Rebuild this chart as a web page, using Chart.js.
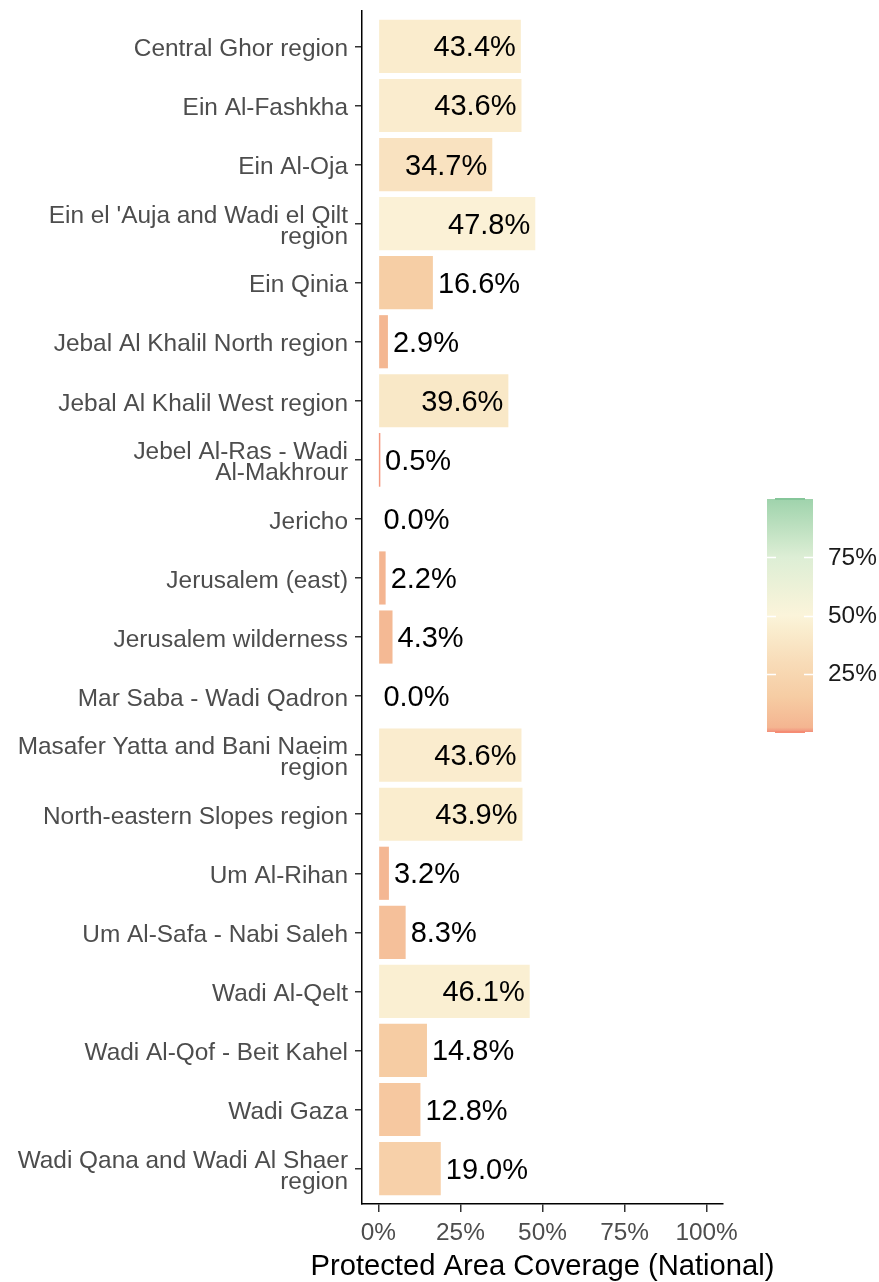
<!DOCTYPE html>
<html>
<head>
<meta charset="utf-8">
<script src="https://cdn.jsdelivr.net/npm/chart.js@4.4.1/dist/chart.umd.min.js"></script>
<style>
  html, body { margin: 0; padding: 0; background: #fff; }
  #chart { display: block; }
</style>
</head>
<body>
<canvas id="chart" width="879" height="1282"></canvas>
<script>
// Protected area coverage by region (national)
const regions = [
    'Central Ghor region',
    'Ein Al-Fashkha',
    'Ein Al-Oja',
    ["Ein el 'Auja and Wadi el Qilt", 'region'],
    'Ein Qinia',
    'Jebal Al Khalil North region',
    'Jebal Al Khalil West region',
    ['Jebel Al-Ras - Wadi', 'Al-Makhrour'],
    'Jericho',
    'Jerusalem (east)',
    'Jerusalem wilderness',
    'Mar Saba - Wadi Qadron',
    ['Masafer Yatta and Bani Naeim', 'region'],
    'North-eastern Slopes region',
    'Um Al-Rihan',
    'Um Al-Safa - Nabi Saleh',
    'Wadi Al-Qelt',
    'Wadi Al-Qof - Beit Kahel',
    'Wadi Gaza',
    ['Wadi Qana and Wadi Al Shaer', 'region']
];
const coverage = [43.4, 43.6, 34.7, 47.8, 16.6, 2.9, 39.6, 0.5, 0.0, 2.2,
                  4.3, 0.0, 43.6, 43.9, 3.2, 8.3, 46.1, 14.8, 12.8, 19.0];
const xTicks = [0, 25, 50, 75, 100];
const legendTicks = [25, 50, 75];
const xTitle = 'Protected Area Coverage (National)';

const FONT = '"Liberation Sans", Arial, sans-serif';

const rampStops = [0, 2, 15, 30, 45, 50, 75, 100];
const rampColors = ['#F2907A', '#F4B591', '#F6CCA3', '#F8DCB8', '#FAEED0', '#FBF4DA', '#DDEED5', '#9FD3AC'];

function hexToRgb(h) {
    return [1, 3, 5].map(i => parseInt(h.substr(i, 2), 16));
}

function rampColor(v) {
    for (let i = 1; i < rampStops.length; i++) {
        if (v <= rampStops[i]) {
            const t = (v - rampStops[i - 1]) / (rampStops[i] - rampStops[i - 1]);
            const a = hexToRgb(rampColors[i - 1]), b = hexToRgb(rampColors[i]);
            const c = a.map((x, k) => Math.round(x + (b[k] - x) * t));
            return 'rgb(' + c.join(',') + ')';
        }
    }
    return rampColors[rampColors.length - 1];
}

// value text next to / inside each bar
const valueLabels = {
    id: 'valueLabels',
    afterDatasetsDraw(chart) {
        const ctx = chart.ctx;
        const meta = chart.getDatasetMeta(0);
        ctx.save();
        ctx.font = '29px ' + FONT;
        ctx.fillStyle = '#000';
        ctx.textBaseline = 'middle';
        meta.data.forEach((bar, i) => {
            const v = coverage[i];
            const txt = v.toFixed(1) + '%';
            if (v > 30) {
                ctx.textAlign = 'right';
                ctx.fillText(txt, bar.x - 5, bar.y + 2);
            } else {
                ctx.textAlign = 'left';
                ctx.fillText(txt, bar.x + 5, bar.y + 2);
            }
        });
        ctx.restore();
    }
};

// x-axis title (drawn here so it is not squeezed to the plot width)
const axisTitle = {
    id: 'axisTitle',
    afterDraw(chart) {
        const ctx = chart.ctx;
        const area = chart.chartArea;
        ctx.save();
        ctx.font = '29.2px ' + FONT;
        ctx.fillStyle = '#000';
        ctx.textAlign = 'center';
        ctx.textBaseline = 'middle';
        ctx.fillText(xTitle, (area.left + area.right) / 2, chart.height - 15);
        ctx.restore();
    }
};

// colour bar legend on the right
const colourBar = {
    id: 'colourBar',
    afterDraw(chart) {
        const ctx = chart.ctx;
        const x0 = 767, x1 = 813, yZero = 732, yHundred = 499;
        const yOf = v => yZero + (yHundred - yZero) * v / 100;
        ctx.save();
        const grad = ctx.createLinearGradient(0, yZero, 0, yHundred);
        rampStops.forEach((s, i) => grad.addColorStop(s / 100, rampColors[i]));
        ctx.fillStyle = grad;
        ctx.fillRect(x0, yHundred, x1 - x0, yZero - yHundred);
        // darker end caps
        ctx.fillStyle = '#86C69A';
        ctx.fillRect(x0 + 8, yHundred - 1, x1 - x0 - 16, 2);
        ctx.fillStyle = '#F58C74';
        ctx.fillRect(x0 + 8, yZero - 1, x1 - x0 - 16, 2);
        // tick marks
        ctx.strokeStyle = '#fff';
        ctx.lineWidth = 1.5;
        legendTicks.forEach(v => {
            const y = Math.round(yOf(v)) + 0.5;
            ctx.beginPath();
            ctx.moveTo(x0, y); ctx.lineTo(x0 + 9, y);
            ctx.moveTo(x1 - 9, y); ctx.lineTo(x1, y);
            ctx.stroke();
        });
        ctx.font = '24.4px ' + FONT;
        ctx.fillStyle = '#1A1A1A';
        ctx.textAlign = 'left';
        ctx.textBaseline = 'middle';
        legendTicks.forEach(v => ctx.fillText(v + '%', 828, yOf(v) + 1));
        ctx.restore();
    }
};

new Chart(document.getElementById('chart'), {
    type: 'bar',
    data: {
        datasets: [{
            data: coverage.map((v, i) => ({ x: v, y: i })),
            backgroundColor: coverage.map(rampColor),
            borderWidth: 0,
            // thin bars (< 1%) get a touch of extra width so they show as a line
            inflateAmount: c => (coverage[c.dataIndex] > 0 && coverage[c.dataIndex] < 1 ? 0.3 : 'auto'),
            barPercentage: 0.9,
            categoryPercentage: 1
        }]
    },
    options: {
        indexAxis: 'y',
        responsive: false,
        animation: false,
        layout: { padding: { top: 11, right: 156, bottom: 0, left: 0 } },
        plugins: {
            legend: { display: false },
            tooltip: { enabled: false }
        },
        scales: {
            x: {
                type: 'linear',
                min: -5,
                max: 105,
                afterBuildTicks: s => { s.ticks = xTicks.map(v => ({ value: v })); },
                afterFit: s => { s.height = 78; s.paddingLeft = 0; s.paddingRight = 0; },
                ticks: {
                    callback: v => v + '%',
                    color: '#4D4D4D',
                    font: { family: FONT, size: 24.4 },
                    padding: 7,
                    maxRotation: 0,
                    autoSkip: false
                },
                grid: { display: true, drawOnChartArea: false, tickLength: 8, color: '#333', lineWidth: 1.5 },
                border: { display: true, color: '#000', width: 1.5 }
            },
            y: {
                type: 'linear',
                reverse: true,
                offset: false,
                min: -0.6,
                max: 19.6,
                afterBuildTicks: s => { s.ticks = regions.map((_, i) => ({ value: i })); },
                afterFit: s => { s.width = 362; s.paddingTop = 0; s.paddingBottom = 0; },
                ticks: {
                    callback: v => regions[v],
                    color: '#4D4D4D',
                    font: { family: FONT, size: 24.4, lineHeight: 0.85 },
                    padding: 7,
                    labelOffset: 3,
                    autoSkip: false
                },
                grid: { display: true, offset: false, drawOnChartArea: false, tickLength: 7, color: '#333', lineWidth: 1.5 },
                border: { display: true, color: '#000', width: 1.5 }
            }
        }
    },
    plugins: [valueLabels, axisTitle, colourBar]
});
</script>
</body>
</html>
